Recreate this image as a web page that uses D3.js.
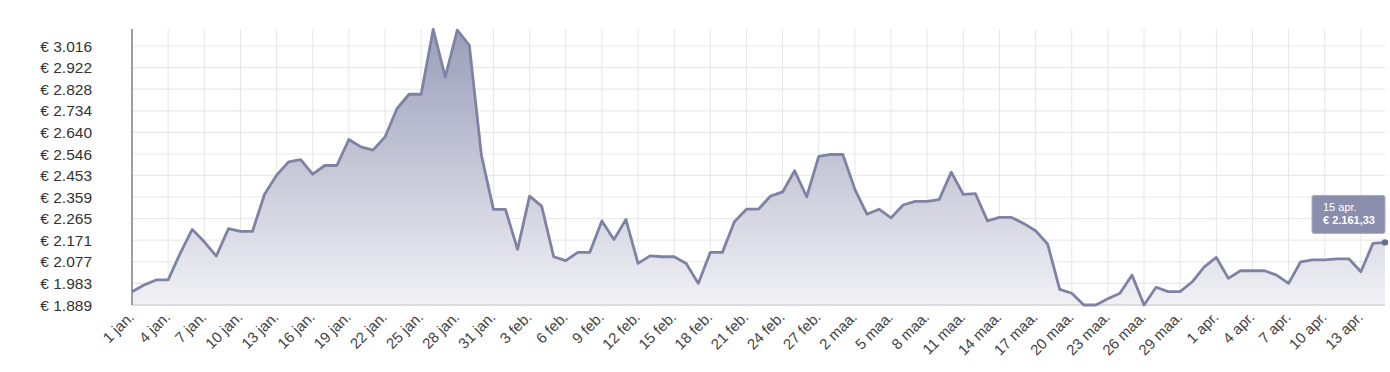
<!DOCTYPE html>
<html>
<head>
<meta charset="utf-8">
<script src="https://cdn.jsdelivr.net/npm/d3@7"></script>
<style>
    body { margin: 0; background: #fff; }
    #chart text { font-family: "Liberation Sans", Arial, sans-serif; }
</style>
</head>
<body>
<div id="chart"></div>
<script>
// Daily values, 1 jan. to 15 apr.
const startDate = new Date(2023, 0, 1);
const values = [
    1947, 1976, 1998, 1998, 2114, 2218, 2164, 2102, 2221, 2209,
    2209, 2371, 2454, 2512, 2522, 2458, 2496, 2496, 2609, 2577,
    2563, 2620, 2744, 2806, 2806, 3088, 2881, 3085, 3019, 2541,
    2305, 2305, 2131, 2363, 2319, 2099, 2082, 2118, 2118, 2255,
    2174, 2261, 2070, 2103, 2099, 2099, 2070, 1983, 2118, 2118,
    2251, 2306, 2306, 2363, 2381, 2473, 2360, 2536, 2544, 2544,
    2392, 2284, 2306, 2268, 2324, 2340, 2340, 2348, 2467, 2370,
    2374, 2255, 2270, 2270, 2244, 2212, 2154, 1957, 1940, 1889,
    1889, 1916, 1940, 2019, 1889, 1966, 1947, 1947, 1990, 2055,
    2096, 2005, 2038, 2038, 2038, 2019, 1983, 2077, 2085, 2085,
    2090, 2090, 2034, 2157, 2161.33
];
const yTicks = [1889, 1983, 2077, 2171, 2265, 2359, 2453, 2546, 2640, 2734, 2828, 2922, 3016];
const yTickLabels = ["€ 1.889", "€ 1.983", "€ 2.077", "€ 2.171", "€ 2.265", "€ 2.359", "€ 2.453",
    "€ 2.546", "€ 2.640", "€ 2.734", "€ 2.828", "€ 2.922", "€ 3.016"];
const monthNames = ["jan.", "feb.", "maa.", "apr."];
const yMin = 1889, yMax = 3090;

const width = 1390, height = 372;
const margin = { top: 29, right: 5, bottom: 67, left: 132 };

const data = values.map((v, i) => ({ date: d3.timeDay.offset(startDate, i), value: v }));

const svg = d3.select("#chart")
    .append("svg")
    .attr("width", width)
    .attr("height", height);

// Scales
const x = d3.scaleTime()
    .domain(d3.extent(data, d => d.date))
    .range([margin.left, width - margin.right]);

const y = d3.scaleLinear()
    .domain([yMin, yMax])
    .range([height - margin.bottom, margin.top]);

// Every third day gets a tick
const xTicks = data.filter((d, i) => i % 3 === 0).map(d => d.date);
const fmtDate = d => `${d.getDate()} ${monthNames[d.getMonth()]}`;

// Gridlines
svg.append("g")
    .selectAll("line")
    .data(yTicks)
    .join("line")
    .attr("x1", margin.left)
    .attr("x2", width - margin.right)
    .attr("y1", d => y(d))
    .attr("y2", d => y(d))
    .attr("stroke", "#e9e9e9")
    .attr("stroke-width", 1.2);

svg.append("g")
    .selectAll("line")
    .data(xTicks)
    .join("line")
    .attr("x1", d => x(d))
    .attr("x2", d => x(d))
    .attr("y1", margin.top)
    .attr("y2", height - margin.bottom)
    .attr("stroke", "#e6e6e6")
    .attr("stroke-width", 1);

// Area gradient
const defs = svg.append("defs");
const grad = defs.append("linearGradient")
    .attr("id", "area-gradient")
    .attr("gradientUnits", "userSpaceOnUse")
    .attr("x1", 0).attr("x2", 0)
    .attr("y1", margin.top).attr("y2", height - margin.bottom);
grad.append("stop").attr("offset", "0%").attr("stop-color", "#9a9eb9");
grad.append("stop").attr("offset", "100%").attr("stop-color", "#f1f1f5");

const area = d3.area()
    .x(d => x(d.date))
    .y0(y(yMin))
    .y1(d => y(d.value));

const line = d3.line()
    .x(d => x(d.date))
    .y(d => y(d.value));

svg.append("path")
    .datum(data)
    .attr("d", area)
    .attr("fill", "url(#area-gradient)");

// Bottom axis line
svg.append("line")
    .attr("x1", margin.left)
    .attr("x2", width - margin.right)
    .attr("y1", y(yMin))
    .attr("y2", y(yMin))
    .attr("stroke", "#dcdce0")
    .attr("stroke-width", 2);

svg.append("path")
    .datum(data)
    .attr("d", line)
    .attr("fill", "none")
    .attr("stroke", "#7e83a3")
    .attr("stroke-width", 2.8)
    .attr("stroke-linejoin", "round");

// Left axis line
svg.append("line")
    .attr("x1", margin.left)
    .attr("x2", margin.left)
    .attr("y1", margin.top)
    .attr("y2", y(yMin))
    .attr("stroke", "#7a7e9e")
    .attr("stroke-width", 1.5);

// Y labels
svg.append("g")
    .selectAll("text")
    .data(yTicks)
    .join("text")
    .attr("x", 92)
    .attr("y", d => y(d))
    .attr("dy", "0.36em")
    .attr("text-anchor", "end")
    .attr("fill", "#333")
    .style("font-size", "15.5px")
    .text((d, i) => yTickLabels[i]);

// X labels, rotated
svg.append("g")
    .selectAll("text")
    .data(xTicks)
    .join("text")
    .attr("transform", d => `translate(${x(d) + 3}, ${y(yMin) + 13}) rotate(-45)`)
    .attr("text-anchor", "end")
    .attr("fill", "#444")
    .style("font-size", "15px")
    .text(fmtDate);

// Tooltip on last point
const last = data[data.length - 1];
const px = x(last.date), py = y(last.value);

svg.append("circle")
    .attr("cx", px)
    .attr("cy", py)
    .attr("r", 3.2)
    .attr("fill", "#676c95");

const tip = svg.append("g")
    .attr("transform", `translate(${px - 73}, ${py - 47})`);

tip.append("rect")
    .attr("width", 73)
    .attr("height", 38)
    .attr("rx", 2)
    .attr("fill", "#8a8eac")
    .attr("stroke", "#a9acc2")
    .attr("stroke-width", 1);

tip.append("text")
    .attr("x", 11)
    .attr("y", 15.5)
    .attr("fill", "#fff")
    .style("font-size", "11px")
    .text(fmtDate(last.date));

tip.append("text")
    .attr("x", 11)
    .attr("y", 29)
    .attr("fill", "#fff")
    .style("font-size", "11px")
    .style("font-weight", "bold")
    .text("€ " + d3.format(",.2f")(last.value).replace(/,/g, "#").replace(".", ",").replace(/#/g, "."));
</script>
</body>
</html>
